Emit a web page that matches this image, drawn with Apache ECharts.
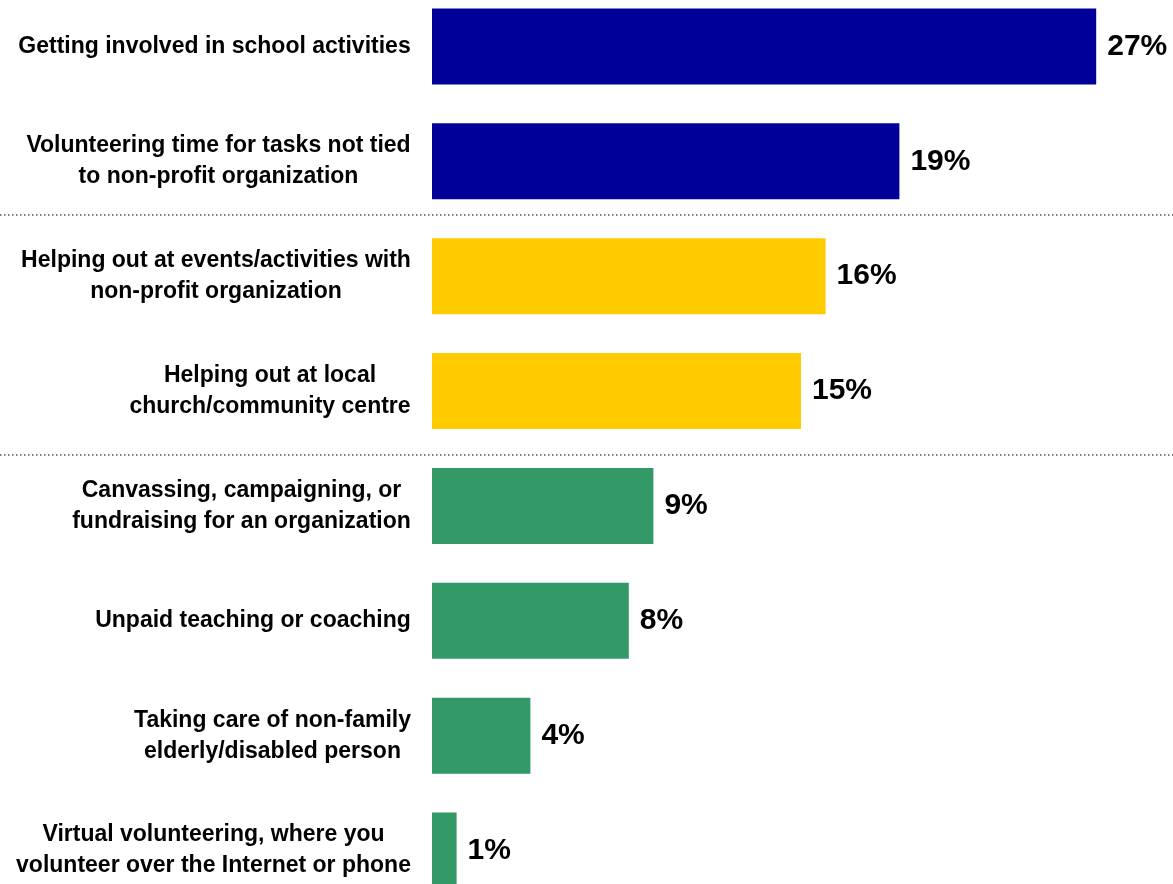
<!DOCTYPE html>
<html>
<head>
<meta charset="utf-8">
<script src="https://cdn.jsdelivr.net/npm/echarts@6/dist/echarts.min.js"></script>
<style>
  html, body { margin: 0; padding: 0; background: #fff; overflow: hidden; }
  #frame { position: relative; width: 1173px; height: 884px; overflow: hidden; }
  /* the plot runs slightly past the top and bottom edges of the frame */
  #chart { position: absolute; left: 0; top: -11px; width: 1173px; height: 919px; }
</style>
</head>
<body>
<div id="frame"><div id="chart"></div></div>
<script>
// Volunteering activities, share of respondents (%)
const categories = [
  'Getting involved in school activities',
  'Volunteering time for tasks not tied\nto non-profit organization',
  'Helping out at events/activities with\nnon-profit organization',
  'Helping out at local\nchurch/community centre',
  'Canvassing, campaigning, or\nfundraising for an organization',
  'Unpaid teaching or coaching',
  'Taking care of non-family\nelderly/disabled person',
  'Virtual volunteering, where you\nvolunteer over the Internet or phone'
];
const values = [27, 19, 16, 15, 9, 8, 4, 1];
const groups = ['informal', 'informal', 'organized', 'organized', 'other', 'other', 'other', 'other'];
const groupColors = { informal: '#000099', organized: '#FFCC00', other: '#339966' };

const FONT = '"Liberation Sans", Arial, sans-serif';
const LABEL_SIZE = 23;

// Measure each label's widest line so its lines can be centred in a right-aligned block
const ctx = document.createElement('canvas').getContext('2d');
ctx.font = 'bold ' + LABEL_SIZE + 'px ' + FONT;
const rich = {};
categories.forEach((c, i) => {
  const w = Math.max(...c.split('\n').map(s => ctx.measureText(s).width));
  rich['c' + i] = {
    width: Math.ceil(w), align: 'center',
    fontFamily: FONT, fontWeight: 'bold', fontSize: LABEL_SIZE,
    lineHeight: 31, color: '#000'
  };
});

const chart = echarts.init(document.getElementById('chart'));
chart.setOption({
  backgroundColor: '#fff',
  animation: false,
  grid: { left: 432, right: 3, top: 0, bottom: 0, containLabel: false },
  xAxis: {
    type: 'value', min: 0, max: 30, show: false
  },
  yAxis: {
    type: 'category',
    data: categories,
    inverse: true,
    axisLine: { show: false },
    axisTick: { show: false },
    splitLine: { show: false },
    axisLabel: {
      margin: 21,
      align: 'right',
      formatter: function (v, i) {
        return v.split('\n').map(s => '{c' + i + '|' + s + '}').join('\n');
      },
      rich: rich
    }
  },
  series: [{
    type: 'bar',
    barWidth: 76,
    data: values.map((v, i) => ({ value: v, itemStyle: { color: groupColors[groups[i]] } })),
    label: {
      show: true,
      position: 'right',
      distance: 11,
      formatter: '{c}%',
      fontFamily: FONT,
      fontWeight: 'bold',
      fontSize: 30,
      color: '#000'
    }
  }],
  // dotted separators between the activity groups
  graphic: [
    { type: 'line', shape: { x1: 0, y1: 226, x2: 1173, y2: 226 },
      style: { stroke: '#555', lineWidth: 1.5, lineDash: [1.5, 2.5] } },
    { type: 'line', shape: { x1: 0, y1: 466, x2: 1173, y2: 466 },
      style: { stroke: '#555', lineWidth: 1.5, lineDash: [1.5, 2.5] } }
  ]
});
</script>
</body>
</html>
